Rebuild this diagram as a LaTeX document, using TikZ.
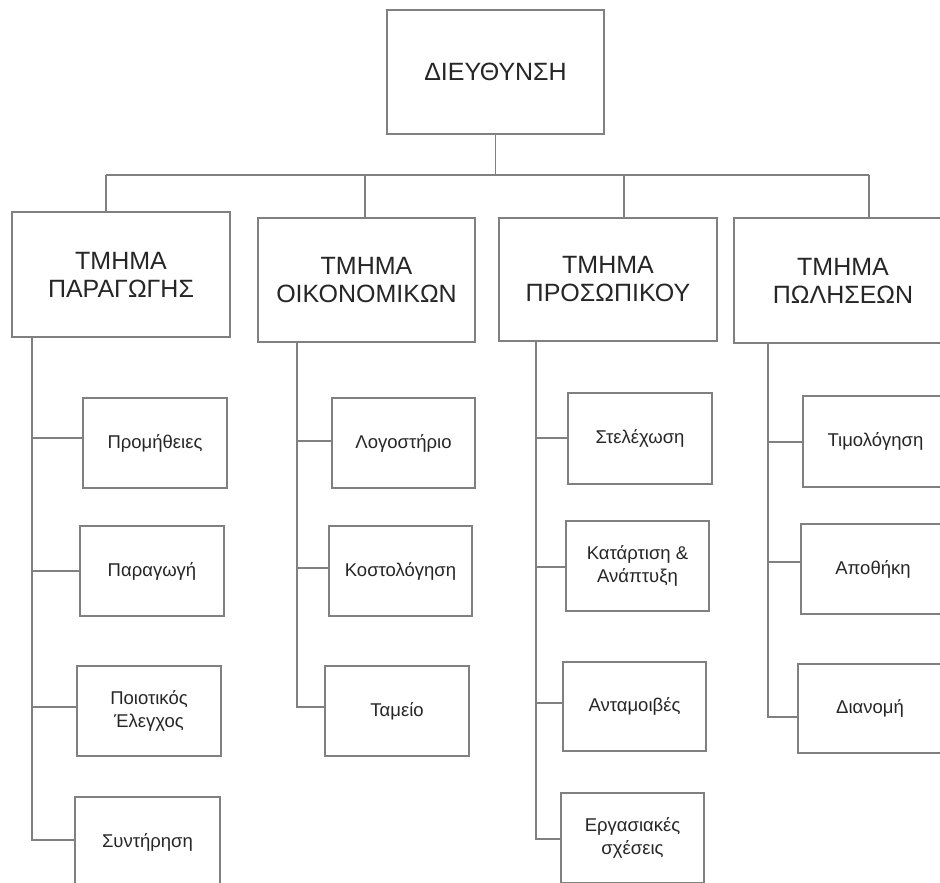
\documentclass[tikz,border=0pt]{standalone}
\usepackage{fontspec}
\setmainfont{Liberation Sans}
\begin{document}
\begin{tikzpicture}[x=1pt,y=-1pt,
  conn/.style={draw=black!50,line width=1.6pt},
  topbox/.style={draw=black!50,line width=1.6pt,fill=white,inner sep=0pt,align=center,
    font=\fontsize{25}{28}\selectfont,text=black!85},
  deptbox/.style={draw=black!50,line width=1.6pt,fill=white,inner sep=0pt,align=center,
    minimum width=218pt,minimum height=124pt,font=\fontsize{25}{28}\selectfont,text=black!85},
  subbox/.style={draw=black!50,line width=1.6pt,fill=white,inner sep=0pt,align=center,
    minimum width=144pt,minimum height=90pt,font=\fontsize{18.5}{23}\selectfont,text=black!85}]
\useasboundingbox (0,0) rectangle (940,883);
\clip (0,0) rectangle (940,883);
\fill[white] (0,0) rectangle (940,883);

% top
\node[topbox,minimum width=217pt,minimum height=124pt] (top) at (495.5,72) {ΔΙΕΥΘΥΝΣΗ};

% departments
\node[deptbox,minimum height=125pt] (P1) at (121,274.5) {ΤΜΗΜΑ\\ΠΑΡΑΓΩΓΗΣ};
\node[deptbox,minimum width=217pt] (P2) at (366.5,280) {ΤΜΗΜΑ\\ΟΙΚΟΝΟΜΙΚΩΝ};
\node[deptbox,minimum height=123pt] (P3) at (608,279.5) {ΤΜΗΜΑ\\ΠΡΟΣΩΠΙΚΟΥ};
\node[deptbox,minimum height=125pt] (P4) at (843,280.5) {ΤΜΗΜΑ\\ΠΩΛΗΣΕΩΝ};

% bus
\coordinate (b1) at (106,175);
\coordinate (b2) at (365,175);
\coordinate (b3) at (624,175);
\coordinate (b4) at (869,175);
\draw[conn] (top.south) -- (top.south |- b1);
\draw[conn] (b1) -- (b4);
\draw[conn] (b1) -- (b1 |- P1.north);
\draw[conn] (b2) -- (b2 |- P2.north);
\draw[conn] (b3) -- (b3 |- P3.north);
\draw[conn] (b4) -- (b4 |- P4.north);

% column 1
\node[subbox] (s11) at (155,443) {Προμήθειες};
\node[subbox] (s12) at (152,571) {Παραγωγή};
\node[subbox] (s13) at (149,711) {Ποιοτικός\\Έλεγχος};
\node[subbox,minimum width=145pt] (s14) at (147.5,842) {Συντήρηση};
\coordinate (c11) at (32,438);
\coordinate (c12) at (32,571);
\coordinate (c13) at (32,707);
\coordinate (c14) at (32,840);
\draw[conn] (c14 |- P1.south) -- (c14) -- (c14 -| s14.west);
\draw[conn] (c11) -- (c11 -| s11.west);
\draw[conn] (c12) -- (c12 -| s12.west);
\draw[conn] (c13) -- (c13 -| s13.west);

% column 2
\node[subbox,minimum width=143pt] (s21) at (403.5,443) {Λογοστήριο};
\node[subbox,minimum width=143pt] (s22) at (400.5,571) {Κοστολόγηση};
\node[subbox] (s23) at (397,711) {Ταμείο};
\coordinate (c21) at (297,441);
\coordinate (c22) at (297,568);
\coordinate (c23) at (297,707);
\draw[conn] (c23 |- P2.south) -- (c23) -- (c23 -| s23.west);
\draw[conn] (c21) -- (c21 -| s21.west);
\draw[conn] (c22) -- (c22 -| s22.west);

% column 3
\node[subbox,minimum height=91pt] (s31) at (640,438.5) {Στελέχωση};
\node[subbox,minimum width=143pt] (s32) at (637.5,566) {Κατάρτιση \&\\Ανάπτυξη};
\node[subbox,minimum width=143pt,minimum height=89pt] (s33) at (634.5,706.5) {Ανταμοιβές};
\node[subbox,minimum width=143pt] (s34) at (632.5,838) {Εργασιακές\\σχέσεις};
\coordinate (c31) at (536,438);
\coordinate (c32) at (536,567);
\coordinate (c33) at (536,703);
\coordinate (c34) at (536,839);
\draw[conn] (c34 |- P3.south) -- (c34) -- (c34 -| s34.west);
\draw[conn] (c31) -- (c31 -| s31.west);
\draw[conn] (c32) -- (c32 -| s32.west);
\draw[conn] (c33) -- (c33 -| s33.west);

% column 4
\node[subbox,minimum width=145pt,minimum height=91pt] (s41) at (875.5,441.5) {Τιμολόγηση};
\node[subbox] (s42) at (873,569) {Αποθήκη};
\node[subbox,minimum height=89pt] (s43) at (870,708.5) {Διανομή};
\coordinate (c41) at (768,442);
\coordinate (c42) at (768,562);
\coordinate (c43) at (768,717);
\draw[conn] (c43 |- P4.south) -- (c43) -- (c43 -| s43.west);
\draw[conn] (c41) -- (c41 -| s41.west);
\draw[conn] (c42) -- (c42 -| s42.west);
\end{tikzpicture}
\end{document}
